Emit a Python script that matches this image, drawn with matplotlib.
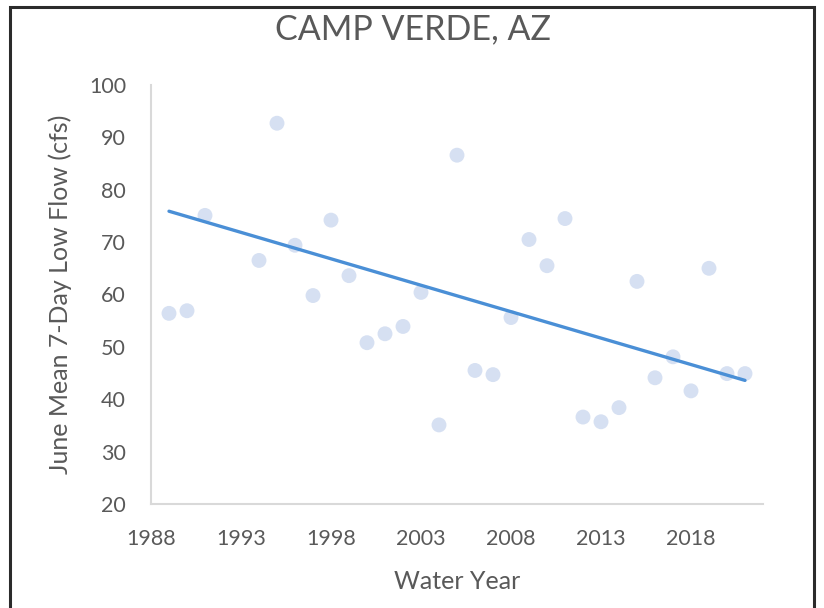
import numpy as np
import matplotlib
matplotlib.use("Agg")
import matplotlib.pyplot as plt
from matplotlib.patches import Rectangle

years = [1989, 1990, 1991, 1994, 1995, 1996, 1997, 1998, 1999, 2000, 2001, 2002,
         2003, 2004, 2005, 2006, 2007, 2008, 2009, 2010, 2011, 2012, 2013, 2014,
         2015, 2016, 2017, 2018, 2019, 2020, 2021]
flow = [56.4, 56.9, 75.1, 66.5, 92.7, 69.4, 59.8, 74.2, 63.6, 50.8, 52.5, 53.9,
        60.4, 35.1, 86.6, 45.5, 44.7, 55.6, 70.5, 65.5, 74.5, 36.6, 35.7, 38.4,
        62.5, 44.1, 48.1, 41.6, 65.0, 44.9, 44.9]
# linear trendline as drawn in the reference
trend_years = [1989, 2021]
trend_flow = [75.9, 43.6]
xticks = [1988, 1993, 1998, 2003, 2008, 2013, 2018]
yticks = [20, 30, 40, 50, 60, 70, 80, 90, 100]

plt.rcParams['font.family'] = ['Lato', 'DejaVu Sans']
TXT = '#595959'

fig = plt.figure(figsize=(8.24, 6.08), dpi=100)
ax = fig.add_axes([151/824, 1-504/608, (763-151)/824, (504-85)/608])

ax.scatter(years, flow, s=115, color='#d6e0f2', edgecolors='none', zorder=2)
ax.plot(trend_years, trend_flow, color='#4a8fd6', lw=2.4,
        solid_capstyle='round', zorder=3)

ax.set_xlim(1988, 2022)
ax.set_ylim(20, 100)
ax.set_xticks(xticks)
ax.set_yticks(yticks)
ax.tick_params(length=0, labelsize=15.5, colors=TXT)
ax.tick_params(axis='y', pad=18)
ax.tick_params(axis='x', pad=18)
for s in ['top', 'right']:
    ax.spines[s].set_visible(False)
for s in ['left', 'bottom']:
    ax.spines[s].set_color('#d9d9d9')
    ax.spines[s].set_linewidth(1.5)

ax.set_xlabel('Water Year', fontsize=18, color=TXT, labelpad=15)
ax.set_ylabel('June Mean 7-Day Low Flow (cfs)', fontsize=18, color=TXT, labelpad=12)
fig.text(413/824, 1-29/608, 'CAMP VERDE, AZ', fontsize=24.5, color=TXT,
         ha='center', va='center')

fig.patches.append(Rectangle((10/824, -0.05), (814-10)/824, 1.05 - 7/608,
                             transform=fig.transFigure, fill=False,
                             edgecolor='#2b2b2b', lw=2.2, clip_on=False))

fig.savefig('out.png', dpi=100)
